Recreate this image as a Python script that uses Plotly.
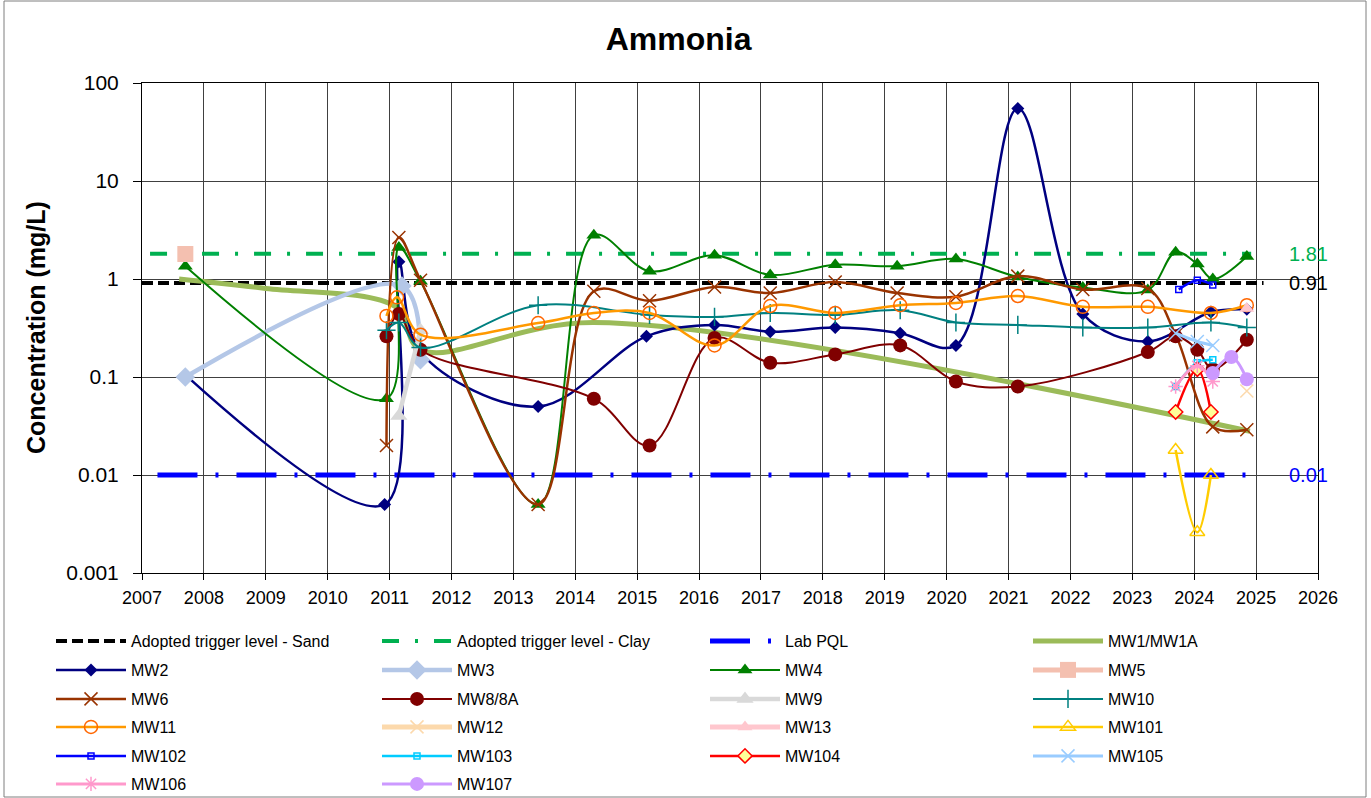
import math
import plotly.graph_objects as go

# ---------------- data ----------------
x_ticks = list(range(2007, 2027))
y_tickvals = [0.001, 0.01, 0.1, 1, 10, 100]
y_ticktext = ["0.001", "0.01", "0.1", "1", "10", "100"]

sand_x = [2007.0, 2025.12]
sand_y = [0.91, 0.91]
clay_x = [2007.13, 2024.92]
clay_y = [1.81, 1.81]
pql_x = [2007.25, 2025.05]
pql_y = [0.01, 0.01]

mw1_x = [2007.6, 2009.0, 2011.1, 2011.5, 2014.3, 2024.9]
mw1_y = [1.0, 0.8, 0.52, 0.19, 0.36, 0.028]

mw2_x = [2007.7, 2010.92, 2011.15, 2011.5, 2013.4, 2015.15, 2016.25, 2017.15, 2018.2,
         2019.25, 2020.15, 2021.15, 2022.2, 2023.25, 2024.27, 2024.85]
mw2_y = [0.105, 0.005, 1.5, 0.18, 0.05, 0.26, 0.34, 0.29, 0.32,
         0.28, 0.21, 55, 0.44, 0.23, 0.46, 0.49]

mw3_x = [2007.7, 2011.2, 2011.5]
mw3_y = [0.1, 0.85, 0.15]

mw4_x = [2007.7, 2010.95, 2011.15, 2011.5, 2013.4, 2014.3, 2015.2, 2016.25, 2017.15,
         2018.2, 2019.2, 2020.15, 2021.15, 2022.2, 2023.25, 2023.7, 2024.05, 2024.3, 2024.85]
mw4_y = [1.35, 0.06, 2.1, 0.95, 0.005, 2.8, 1.2, 1.75, 1.1,
         1.4, 1.35, 1.6, 1.05, 0.82, 0.77, 1.88, 1.42, 1.0, 1.7]

mw5_x = [2007.7]
mw5_y = [1.8]

mw6_x = [2010.95, 2011.15, 2011.5, 2013.4, 2014.3, 2015.2, 2016.25, 2017.15, 2018.2,
         2019.2, 2020.15, 2021.15, 2022.2, 2023.25, 2023.7, 2024.3, 2024.85]
mw6_y = [0.02, 2.65, 0.97, 0.005, 0.75, 0.6, 0.83, 0.72, 0.93,
         0.72, 0.66, 1.07, 0.78, 0.8, 0.27, 0.031, 0.029]

mw8_x = [2010.95, 2011.15, 2011.5, 2014.3, 2015.2, 2016.25, 2017.15, 2018.2, 2019.25,
         2020.15, 2021.15, 2023.25, 2023.7, 2024.05, 2024.3, 2024.85]
mw8_y = [0.26, 0.44, 0.19, 0.06, 0.02, 0.25, 0.14, 0.17, 0.21,
         0.09, 0.08, 0.18, 0.26, 0.19, 0.12, 0.24]

mw9_x = [2011.15, 2011.5]
mw9_y = [0.04, 0.3]

mw10_x = [2010.95, 2011.15, 2011.5, 2013.4, 2015.2, 2016.25, 2017.15, 2018.2, 2019.25,
          2020.15, 2021.15, 2022.2, 2023.25, 2024.27, 2024.85]
mw10_y = [0.3, 0.36, 0.2, 0.54, 0.43, 0.41, 0.45, 0.43, 0.48,
          0.36, 0.34, 0.32, 0.32, 0.36, 0.32]

mw11_x = [2010.95, 2011.12, 2011.5, 2013.4, 2014.3, 2015.2, 2016.25, 2017.15, 2018.2,
          2019.25, 2020.15, 2021.15, 2022.2, 2023.25, 2024.27, 2024.85]
mw11_y = [0.42, 0.65, 0.27, 0.355, 0.45, 0.45, 0.21, 0.53, 0.45,
          0.54, 0.57, 0.67, 0.52, 0.52, 0.45, 0.54]

mw12_x = [2024.85]
mw12_y = [0.072]
mw13_x = [2024.85]
mw13_y = [0.5]

mw101_x = [2023.7, 2024.05, 2024.27]
mw101_y = [0.018, 0.0026, 0.01]
mw102_x = [2023.75, 2024.05, 2024.3]
mw102_y = [0.78, 0.97, 0.87]
mw103_x = [2023.7, 2024.05, 2024.3]
mw103_y = [0.08, 0.14, 0.15]
mw104_x = [2023.7, 2024.05, 2024.27]
mw104_y = [0.044, 0.12, 0.044]
mw105_x = [2023.7, 2024.05, 2024.3]
mw105_y = [0.28, 0.23, 0.21]
mw106_x = [2023.7, 2024.05, 2024.3]
mw106_y = [0.08, 0.13, 0.09]
mw107_x = [2024.3, 2024.6, 2024.85]
mw107_y = [0.11, 0.16, 0.095]

# ---------------- layout geometry (pixels) ----------------
W, H = 1371, 798
PL, PR, PT, PB = 142, 1318, 83, 573
PW, PH = PR - PL, PB - PT


def px_x(p):
    return (p - PL) / PW


def px_y(p):
    return (PB - p) / PH


FONT = "Arial, Liberation Sans, Helvetica, sans-serif"

# series definitions: name, x, y, line dict, mode, marker dict
series = [
    ("Adopted trigger level - Sand", sand_x, sand_y, dict(color="#000000", width=4, dash="11px,5px"), "lines", None),
    ("Adopted trigger level - Clay", clay_x, clay_y, dict(color="#00B050", width=4, dash="17px,16px,3px,16px"), "lines", None),
    ("Lab PQL", pql_x, pql_y, dict(color="#0000FF", width=5, dash="40px,18px,3px,18px"), "lines", None),
    ("MW1/MW1A", mw1_x, mw1_y, dict(color="#9BBB59", width=5), "lines", None),
    ("MW2", mw2_x, mw2_y, dict(color="#000080", width=2.5), "lines+markers",
     dict(symbol="diamond", size=10, color="#000080")),
    ("MW3", mw3_x, mw3_y, dict(color="#B4C7E7", width=4.5), "lines+markers",
     dict(symbol="diamond", size=15, color="#B4C7E7")),
    ("MW4", mw4_x, mw4_y, dict(color="#008000", width=2), "lines+markers",
     dict(symbol="triangle-up", size=13, color="#008000")),
    ("MW5", mw5_x, mw5_y, dict(color="#F4C0B0", width=5), "lines+markers",
     dict(symbol="square", size=16, color="#F4C0B0")),
    ("MW6", mw6_x, mw6_y, dict(color="#993300", width=2.5), "lines+markers",
     dict(symbol="x-thin", size=13, color="#993300", line=dict(color="#993300", width=1.5))),
    ("MW8/8A", mw8_x, mw8_y, dict(color="#800000", width=2), "lines+markers",
     dict(symbol="circle", size=14, color="#800000")),
    ("MW9", mw9_x, mw9_y, dict(color="#D9D9D9", width=4.5), "lines+markers",
     dict(symbol="triangle-up", size=15, color="#D9D9D9")),
    ("MW10", mw10_x, mw10_y, dict(color="#008080", width=2), "lines+markers",
     dict(symbol="cross-thin", size=13, color="#008080", line=dict(color="#008080", width=1.5))),
    ("MW11", mw11_x, mw11_y, dict(color="#FF9900", width=2.5), "lines+markers",
     dict(symbol="circle-open", size=13, color="#FF6600", line=dict(color="#FF6600", width=1.5))),
    ("MW12", mw12_x, mw12_y, dict(color="#FCD9AC", width=5), "lines+markers",
     dict(symbol="x-thin", size=13, color="#FCD9AC", line=dict(color="#FCD9AC", width=1.5))),
    ("MW13", mw13_x, mw13_y, dict(color="#FFC7CE", width=5), "lines+markers",
     dict(symbol="triangle-up", size=13, color="#FFC7CE")),
    ("MW101", mw101_x, mw101_y, dict(color="#FFCC00", width=2.5), "lines+markers",
     dict(symbol="triangle-up-open", size=13, color="#FFCC00", line=dict(color="#FFCC00", width=1.5))),
    ("MW102", mw102_x, mw102_y, dict(color="#0000FF", width=2.5), "lines+markers",
     dict(symbol="square-open", size=6, color="#0000FF", line=dict(color="#0000FF", width=1.5))),
    ("MW103", mw103_x, mw103_y, dict(color="#00CCFF", width=2.5), "lines+markers",
     dict(symbol="square-open", size=6, color="#00CCFF", line=dict(color="#00CCFF", width=1.5))),
    ("MW104", mw104_x, mw104_y, dict(color="#FF0000", width=2.5), "lines+markers",
     dict(symbol="diamond", size=11, color="#FFFF99", line=dict(color="#FF0000", width=1.5))),
    ("MW105", mw105_x, mw105_y, dict(color="#99CCFF", width=3), "lines+markers",
     dict(symbol="x-thin", size=13, color="#99CCFF", line=dict(color="#99CCFF", width=1.5))),
    ("MW106", mw106_x, mw106_y, dict(color="#FF99CC", width=3), "lines+markers",
     dict(symbol="asterisk-open", size=12, color="#FF99CC", line=dict(color="#FF99CC", width=1.5))),
    ("MW107", mw107_x, mw107_y, dict(color="#CC99FF", width=3), "lines+markers",
     dict(symbol="circle", size=14, color="#CC99FF")),
]

# legend grid (pixel positions of each item's box left / row centre)
col_px = [51, 377, 705, 1028]
row_px = [641, 670, 699, 727, 756, 784]

fig = go.Figure()
layout_legends = {}
for i, (name, xs, ys, line, mode, marker) in enumerate(series):
    lname = "legend" if i == 0 else f"legend{i + 1}"
    r, c = divmod(i, 4)
    line = dict(line)
    if (mode != "lines" and len(xs) > 2) or name == "MW1/MW1A":
        line.update(shape="spline", smoothing=1.0)
    tr = dict(x=xs, y=ys, name=name, mode=mode, line=line, legend=lname, showlegend=True)
    if marker is not None:
        tr["marker"] = marker
    fig.add_trace(go.Scatter(**tr))
    layout_legends[lname] = dict(
        x=px_x(col_px[c]), y=px_y(row_px[r]), xanchor="left", yanchor="middle",
        orientation="h", itemwidth=70, bgcolor="rgba(0,0,0,0)",
        font=dict(family=FONT, size=16, color="#000000"),
        itemclick=False, itemdoubleclick=False,
    )

# right-hand value labels
labels = [("1.81", 1.81, "#00B050"), ("0.91", 0.91, "#000000"), ("0.01", 0.01, "#0000FF")]
annotations = []
for txt, val, col in labels:
    annotations.append(dict(x=2025.5, y=math.log10(val), xref="x", yref="y", text=txt,
                            showarrow=False, xanchor="left", yanchor="middle",
                            font=dict(family=FONT, size=20, color=col)))
annotations.append(dict(x=px_x(36), y=0.5, xref="paper", yref="paper",
                        text="<b>Concentration (mg/L)</b>", textangle=-90, showarrow=False,
                        xanchor="center", yanchor="middle",
                        font=dict(family=FONT, size=25, color="#000000")))

fig.update_layout(
    width=W, height=H,
    margin=dict(l=PL, r=W - PR, t=PT, b=H - PB, autoexpand=False),
    paper_bgcolor="#FFFFFF", plot_bgcolor="#FFFFFF",
    title=dict(text="<b>Ammonia</b>", x=0.495, xanchor="center", y=1 - 39 / H, yanchor="middle",
               font=dict(family=FONT, size=32, color="#000000")),
    font=dict(family=FONT, color="#000000"),
    annotations=annotations,
    shapes=[dict(type="rect", xref="paper", yref="paper",
                 x0=px_x(4), x1=px_x(1366), y0=px_y(797), y1=px_y(1),
                 line=dict(color="#7F7F7F", width=1), layer="below")],
    **layout_legends,
)

fig.update_xaxes(
    range=[2007, 2026], tickmode="array", tickvals=x_ticks, ticktext=[str(v) for v in x_ticks],
    showgrid=True, gridcolor="#404040", gridwidth=1,
    showline=True, linecolor="#000000", linewidth=1, mirror=True,
    ticks="outside", ticklen=6, tickcolor="#000000", ticklabelstandoff=2,
    tickfont=dict(family=FONT, size=18, color="#000000"), zeroline=False,
)
fig.update_yaxes(
    type="log", range=[-3, 2], tickmode="array", tickvals=y_tickvals, ticktext=y_ticktext,
    showgrid=True, gridcolor="#404040", gridwidth=1,
    showline=True, linecolor="#000000", linewidth=1, mirror=True,
    ticks="outside", ticklen=8, tickcolor="#000000", ticklabelstandoff=10,
    tickfont=dict(family=FONT, size=21, color="#000000"), zeroline=False,
)

fig.write_html("out.html", config={"displayModeBar": False},
               post_script="document.body.style.margin='0px';document.body.style.overflow='hidden';")
